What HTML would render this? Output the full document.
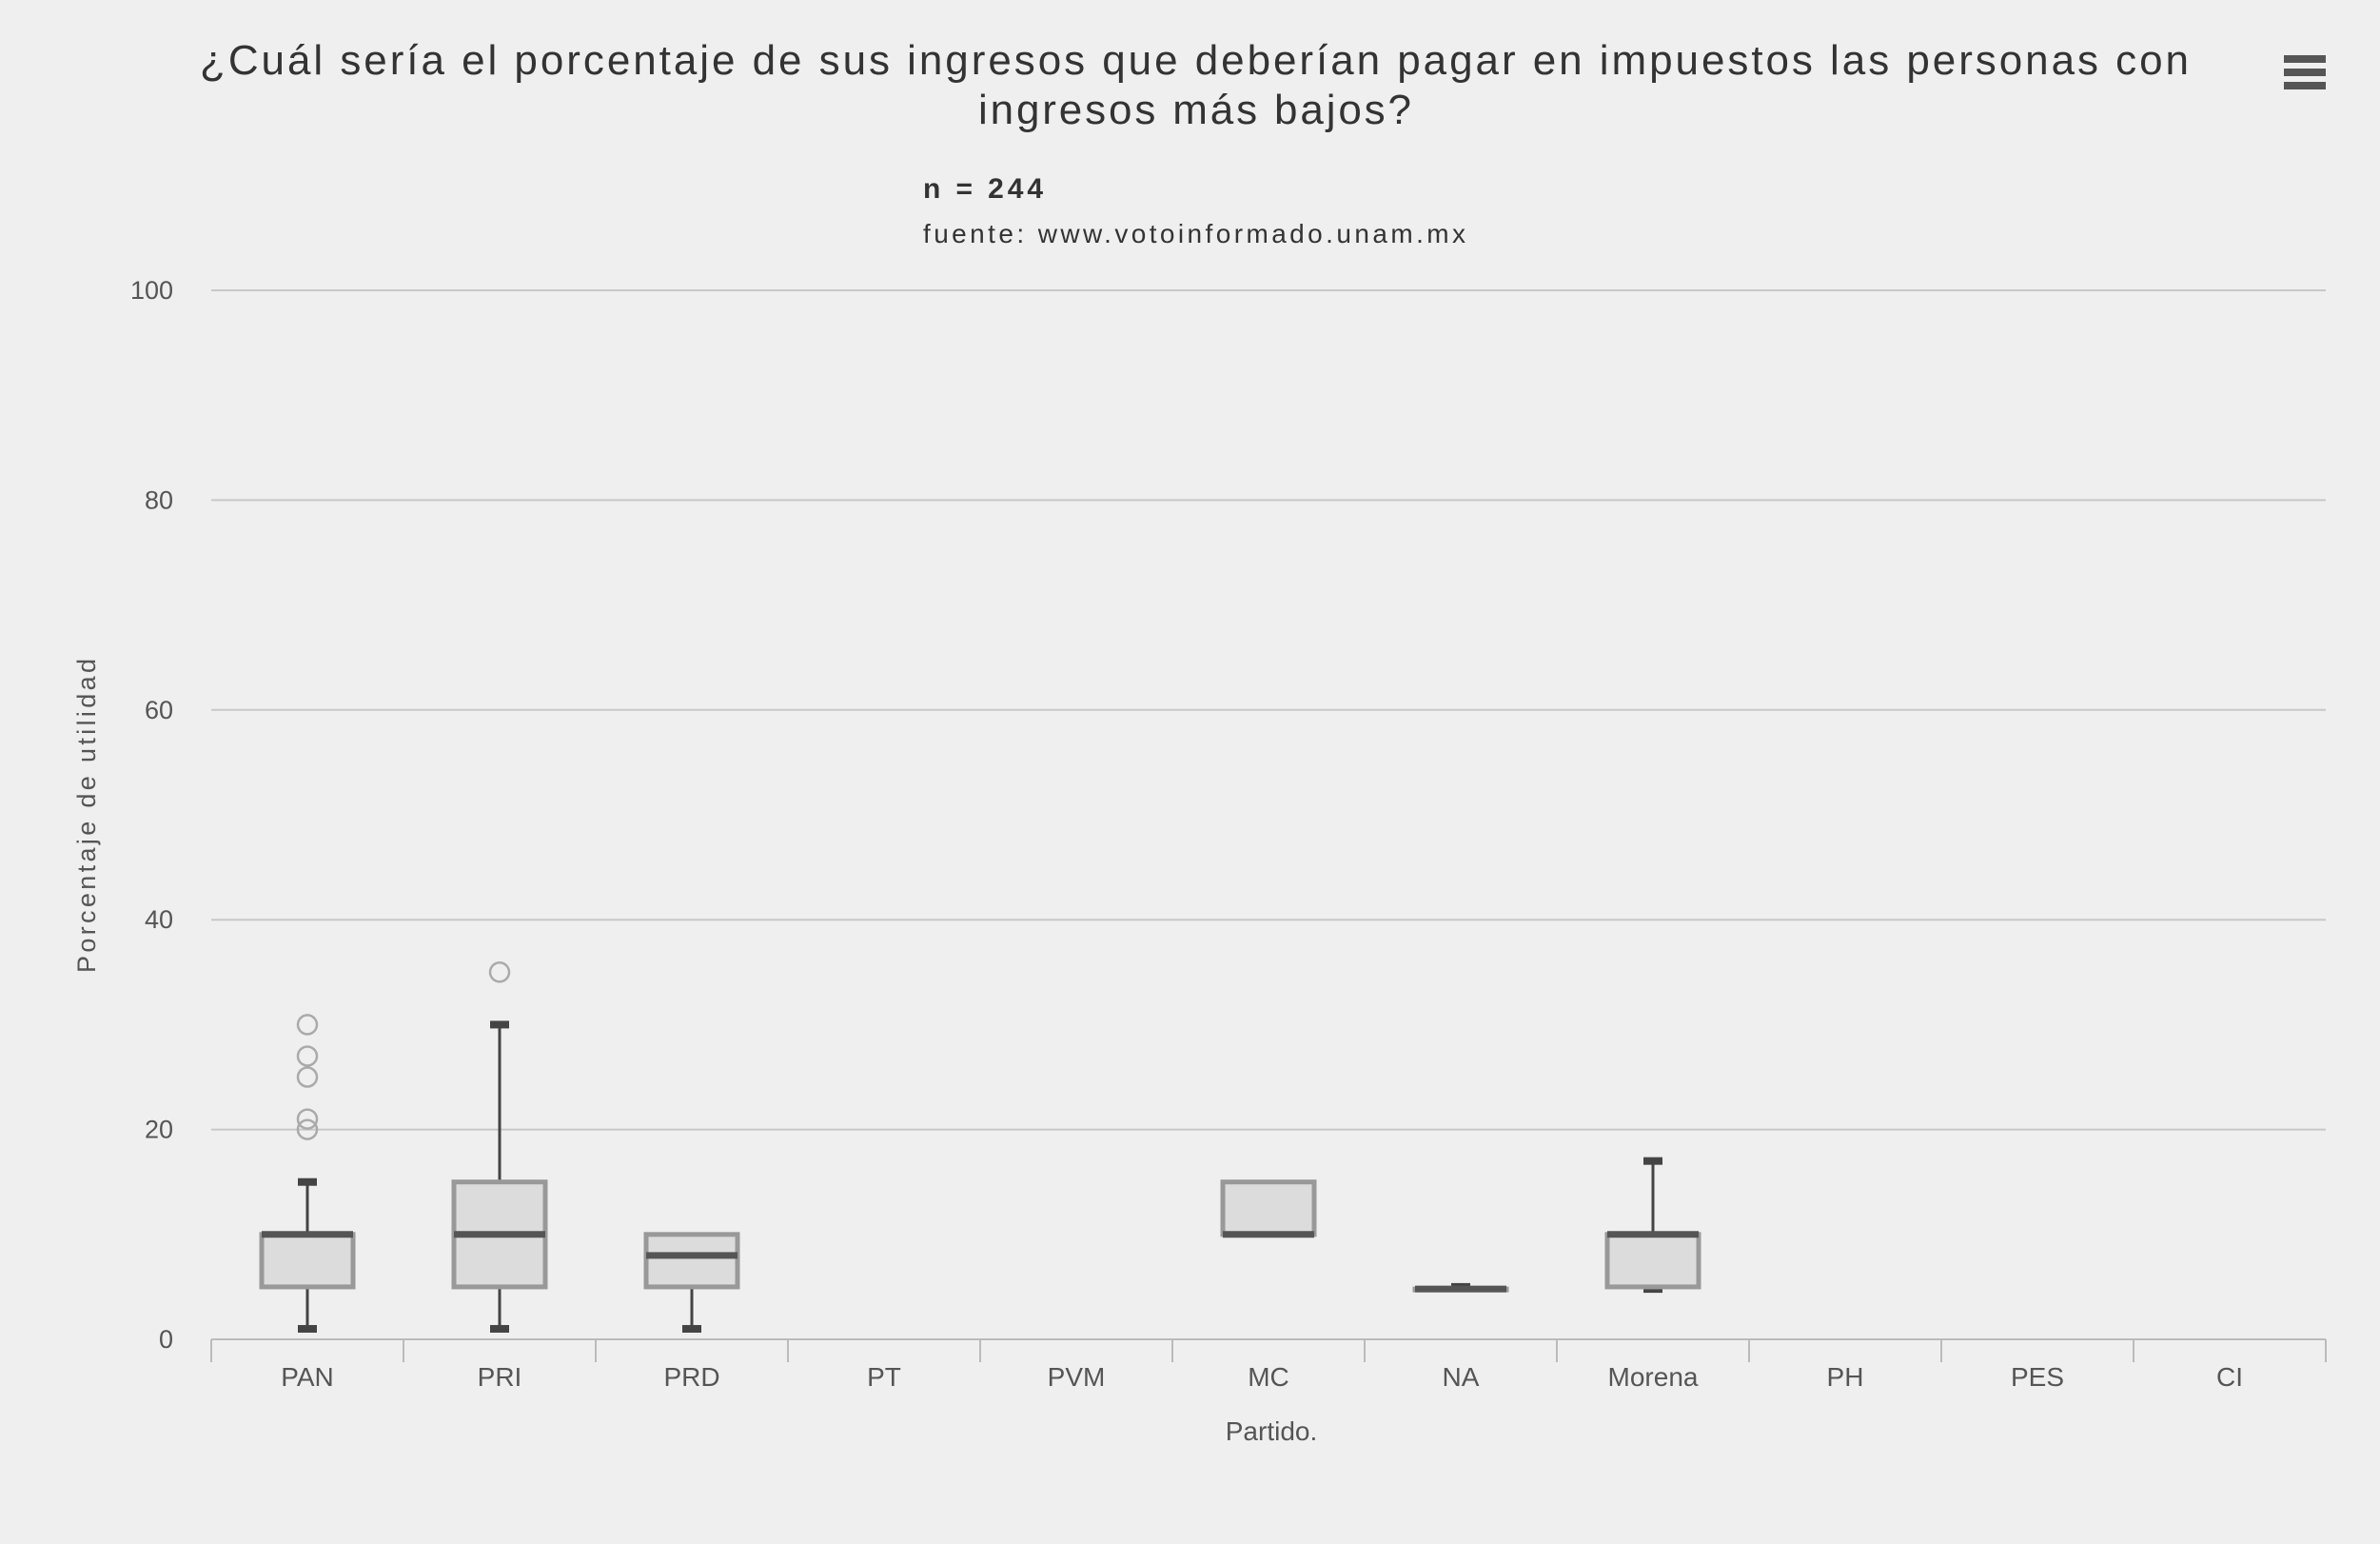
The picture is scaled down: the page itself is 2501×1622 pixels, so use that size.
<!DOCTYPE html>
<html><head><meta charset="utf-8"><style>
html,body{margin:0;padding:0;background:#efefef;}
svg{display:block;font-family:"Liberation Sans",sans-serif;}
</style></head><body>
<svg id="chart" width="2501" height="1622" viewBox="0 0 2501 1622" xmlns="http://www.w3.org/2000/svg">
<rect x="0" y="0" width="2501" height="1622" fill="#efefef"/>
<text x="210" y="78" textLength="2090" lengthAdjust="spacing" font-size="44" fill="#333">¿Cuál sería el porcentaje de sus ingresos que deberían pagar en impuestos las personas con</text>
<text x="1028" y="130" textLength="455" lengthAdjust="spacing" font-size="44" fill="#333">ingresos más bajos?</text>
<g>
<rect x="2400" y="58" width="44" height="8" fill="#555"/><rect x="2400" y="72" width="44" height="8" fill="#555"/><rect x="2400" y="86" width="44" height="8" fill="#555"/>
</g>
<text x="970" y="208" textLength="126" lengthAdjust="spacing" font-size="30" font-weight="bold" fill="#333">n = 244</text>
<text x="970" y="255" textLength="570" lengthAdjust="spacing" font-size="28" fill="#333">fuente: www.votoinformado.unam.mx</text>
<text transform="translate(100,857) rotate(-90)" text-anchor="middle" textLength="330" lengthAdjust="spacing" font-size="27" fill="#555">Porcentaje de utilidad</text>
<text x="1336" y="1513" text-anchor="middle" font-size="28" fill="#555">Partido.</text>
<g id="grid"></g><g id="marks"></g>
</svg>
<script>
const categories=["PAN","PRI","PRD","PT","PVM","MC","NA","Morena","PH","PES","CI"];
const lowVals=[1,1,1,null,null,10,4.8,4.8,null,null,null];
const q1Vals=[5,5,5,null,null,10,4.8,5,null,null,null];
const medVals=[10,10,8,null,null,10,4.8,10,null,null,null];
const q3Vals=[10,15,10,null,null,15,4.8,10,null,null,null];
const highVals=[15,30,10,null,null,15,5,17,null,null,null];
const outlierCat=[0,0,0,0,0,1];
const outlierVals=[20,21,25,27,30,35];
const yTicks=[0,20,40,60,80,100];
const NS="http://www.w3.org/2000/svg";
const L=222,R=2444,Y0=1407,Y100=305;
const bw=(R-L)/categories.length;
const y=v=>Y0-(v/100)*(Y0-Y100);
const xc=i=>L+bw*(i+0.5);
const grid=document.getElementById('grid'),marks=document.getElementById('marks');
function mk(tag,at,parent){const e=document.createElementNS(NS,tag);for(const k in at)e.setAttribute(k,at[k]);parent.appendChild(e);return e;}
yTicks.forEach(t=>{
 if(t>0){const g=mk('line',{x1:L,x2:R,y1:y(t),y2:y(t),stroke:'#c8c8c8','stroke-width':2},grid);
 
 }
 const tx=mk('text',{x:182,y:y(t)+9,'text-anchor':'end','font-size':27,fill:'#555'},grid);
 tx.textContent=t;
 
 
});
const ax=mk('line',{x1:L,x2:R,y1:Y0,y2:Y0,stroke:'#bbb','stroke-width':2},grid);


for(let i=0;i<=categories.length;i++){
 const tk=mk('line',{x1:L+bw*i,x2:L+bw*i,y1:Y0,y2:Y0+24,stroke:'#bbb','stroke-width':2},grid);
 
 
}
categories.forEach((c,i)=>{
 const t=mk('text',{x:xc(i),y:1456,'text-anchor':'middle','font-size':28,fill:'#555'},grid);
 t.textContent=c;
 
 
 if(q1Vals[i]===null)return;
 const g=mk('g',{},marks);
 
 
 const cx=xc(i),hw=48;
 if(highVals[i]>q3Vals[i]){
  mk('line',{x1:cx,x2:cx,y1:y(highVals[i]),y2:y(q3Vals[i]),stroke:'#444','stroke-width':3},g);
  mk('rect',{x:cx-10,y:y(highVals[i])-4,width:20,height:8,fill:'#444'},g);
 }
 if(lowVals[i]<q1Vals[i]){
  mk('line',{x1:cx,x2:cx,y1:y(lowVals[i]),y2:y(q1Vals[i]),stroke:'#444','stroke-width':3},g);
  mk('rect',{x:cx-10,y:y(lowVals[i])-4,width:20,height:8,fill:'#444'},g);
 }
 const top=y(q3Vals[i]),bot=y(q1Vals[i]);
 mk('rect',{x:cx-hw,y:top,width:hw*2,height:Math.max(bot-top,1),fill:'#dcdcdc',stroke:'#999','stroke-width':5},g);
 mk('line',{x1:cx-hw,x2:cx+hw,y1:y(medVals[i]),y2:y(medVals[i]),stroke:'#555','stroke-width':7},g);
});
outlierVals.forEach((v,k)=>{
 const o=mk('circle',{cx:xc(outlierCat[k]),cy:y(v),r:10,fill:'none',stroke:'#aaa','stroke-width':2.5},marks);
 
 
});
</script>
</body></html>
